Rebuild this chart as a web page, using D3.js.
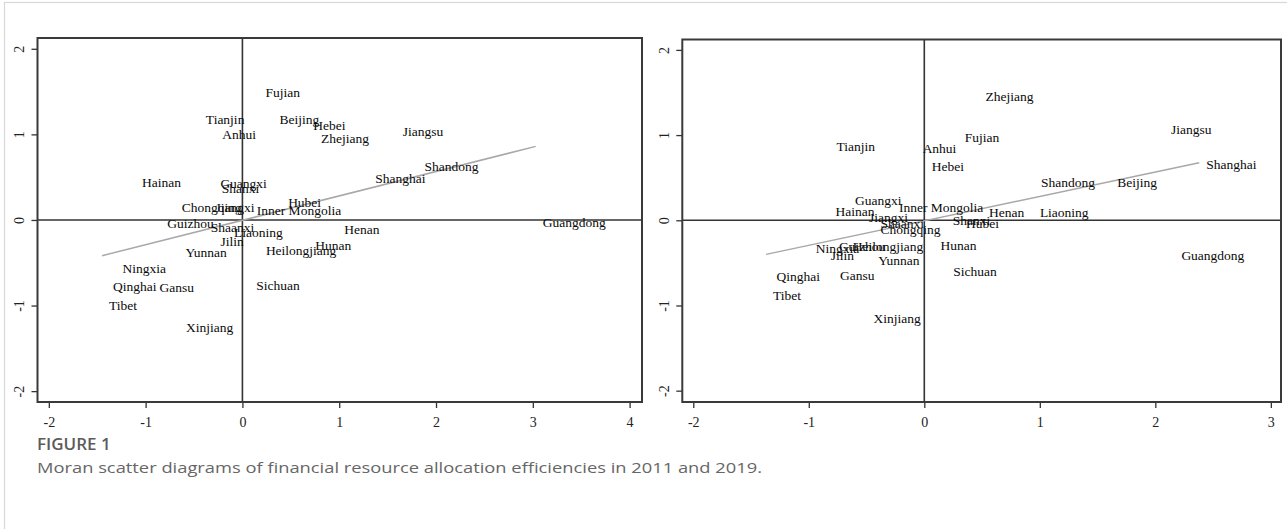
<!DOCTYPE html>
<html>
<head>
<meta charset="utf-8">
<title>Moran scatter diagrams 2011 / 2019</title>
<script src="https://cdn.jsdelivr.net/npm/d3@7"></script>
<style>
  body { margin: 0; background: #fff; }
  svg { display: block; }
</style>
</head>
<body>
<div id="chart"></div>
<script>
// Province names, same order in every array below
const provinces = [
  'Beijing', 'Tianjin', 'Hebei', 'Shanxi', 'Inner Mongolia', 'Liaoning', 'Jilin',
  'Heilongjiang', 'Shanghai', 'Jiangsu', 'Zhejiang', 'Anhui', 'Fujian', 'Jiangxi',
  'Shandong', 'Henan', 'Hubei', 'Hunan', 'Guangdong', 'Guangxi', 'Hainan',
  'Chongqing', 'Sichuan', 'Guizhou', 'Yunnan', 'Tibet', 'Shaanxi', 'Gansu',
  'Qinghai', 'Ningxia', 'Xinjiang'
];

// 2011: standardized efficiency (z) and its spatial lag (Wz)
const z2011 = [
  0.31, -0.45, 0.66, -0.285, 0.076, -0.16, -0.30,
  0.17, 1.30, 1.585, 0.74, -0.28, 0.165, -0.35,
  1.81, 0.98, 0.40, 0.68, 3.03, -0.30, -1.11,
  -0.70, 0.07, -0.85, -0.66, -1.45, -0.40, -0.93,
  -1.41, -1.31, -0.655
];
const wz2011 = [
  1.18, 1.18, 1.11, 0.37, 0.11, -0.14, -0.25,
  -0.35, 0.49, 1.04, 0.96, 1.00, 1.49, 0.15,
  0.63, -0.11, 0.21, -0.29, -0.03, 0.43, 0.44,
  0.145, -0.76, -0.035, -0.38, -0.995, -0.09, -0.79,
  -0.77, -0.56, -1.25
];

// 2019
const z2019 = [
  1.61, -0.82, 0.004, 0.185, -0.28, 0.94, -0.87,
  -0.68, 2.38, 2.075, 0.47, -0.075, 0.29, -0.54,
  0.95, 0.50, 0.30, 0.08, 2.165, -0.66, -0.83,
  -0.44, 0.19, -0.80, -0.46, -1.37, -0.44, -0.79,
  -1.34, -1.00, -0.50
];
const wz2019 = [
  0.45, 0.87, 0.63, -0.005, 0.15, 0.09, -0.41,
  -0.30, 0.66, 1.07, 1.45, 0.845, 0.98, 0.04,
  0.45, 0.094, -0.03, -0.29, -0.41, 0.24, 0.11,
  -0.105, -0.60, -0.31, -0.47, -0.88, -0.03, -0.64,
  -0.66, -0.33, -1.15
];

// fitted line (slope = Moran's I)
const fit2011 = { slope: 0.285, intercept: -0.004 };
const fit2019 = { slope: 0.287, intercept: -0.007 };

// axis ticks and visible ranges
const xTicks2011 = [-2, -1, 0, 1, 2, 3, 4];
const xTicks2019 = [-2, -1, 0, 1, 2, 3];
const yTicks = [-2, -1, 0, 1, 2];
const xRange2011 = [-2.117, 4.128];
const xRange2019 = [-2.095, 3.088];
const yRange2011 = [-2.127, 2.126];
const yRange2019 = [-2.133, 2.122];

const width = 1287;
const height = 529;
const serif = '"Liberation Serif", "Times New Roman", serif';

const svg = d3.select('#chart').append('svg')
  .attr('width', width)
  .attr('height', height);

// card frame
svg.append('rect')
  .attr('x', 4.5).attr('y', 2.5)
  .attr('width', width + 10).attr('height', height + 10)
  .attr('fill', '#fff')
  .attr('stroke', '#d8d8d8')
  .attr('stroke-width', 1.2);

function drawPanel(opt) {
  const x = d3.scaleLinear().domain(opt.xRange).range([opt.left, opt.right]);
  const y = d3.scaleLinear().domain(opt.yRange).range([opt.bottom, opt.top]);
  const g = svg.append('g');

  // quadrant lines through the origin
  g.append('line')
    .attr('x1', x(0)).attr('x2', x(0))
    .attr('y1', opt.top).attr('y2', opt.bottom)
    .attr('stroke', '#333').attr('stroke-width', 1.6);
  g.append('line')
    .attr('x1', opt.left).attr('x2', opt.right)
    .attr('y1', y(0)).attr('y2', y(0))
    .attr('stroke', '#333').attr('stroke-width', 1.6);

  // linear fit across the range of z
  const ext = d3.extent(opt.z);
  g.append('line')
    .attr('x1', x(ext[0])).attr('y1', y(opt.fit.intercept + opt.fit.slope * ext[0]))
    .attr('x2', x(ext[1])).attr('y2', y(opt.fit.intercept + opt.fit.slope * ext[1]))
    .attr('stroke', '#a8a8a8').attr('stroke-width', 1.5);

  // province labels, placed to the right of each point
  g.selectAll('text.lab')
    .data(opt.names.map((n, i) => ({ name: n, z: opt.z[i], wz: opt.wz[i] })))
    .enter().append('text')
    .attr('class', 'lab')
    .attr('x', d => x(d.z) + 7)
    .attr('y', d => y(d.wz))
    .attr('dy', '0.35em')
    .attr('font-family', serif)
    .attr('font-size', 13.5)
    .attr('fill', '#0a0a0a')
    .text(d => d.name);

  // bottom axis (plain hyphen for negatives, like the original)
  const xAxis = g.append('g')
    .attr('transform', `translate(0,${opt.bottom})`)
    .call(d3.axisBottom(x).tickValues(opt.xTicks).tickSize(6).tickPadding(9).tickFormat(d => String(d)));
  xAxis.select('.domain').remove();
  xAxis.selectAll('line').attr('stroke', '#333').attr('stroke-width', 1.3);
  xAxis.selectAll('text')
    .attr('font-family', serif).attr('font-size', 14).attr('fill', '#222');

  // left axis with vertical labels
  const yAxis = g.append('g')
    .attr('transform', `translate(${opt.left},0)`)
    .call(d3.axisLeft(y).tickValues(yTicks).tickSize(6).tickFormat(d => String(d)));
  yAxis.select('.domain').remove();
  yAxis.selectAll('line').attr('stroke', '#333').attr('stroke-width', 1.3);
  yAxis.selectAll('text')
    .attr('x', null).attr('dy', '0.35em')
    .attr('text-anchor', 'middle')
    .attr('transform', 'translate(-18,0) rotate(-90)')
    .attr('font-family', serif).attr('font-size', 14).attr('fill', '#222');

  // plot frame
  g.append('rect')
    .attr('x', opt.left).attr('y', opt.top)
    .attr('width', opt.right - opt.left).attr('height', opt.bottom - opt.top)
    .attr('fill', 'none')
    .attr('stroke', '#3a3a3a').attr('stroke-width', 2);
}

drawPanel({
  names: provinces, z: z2011, wz: wz2011, fit: fit2011,
  xRange: xRange2011, yRange: yRange2011, xTicks: xTicks2011,
  left: 37.5, right: 642, top: 38, bottom: 402
});

drawPanel({
  names: provinces, z: z2019, wz: wz2019, fit: fit2019,
  xRange: xRange2019, yRange: yRange2019, xTicks: xTicks2019,
  left: 682.3, right: 1281, top: 39.5, bottom: 402
});

// caption
svg.append('text')
  .attr('x', 37).attr('y', 450)
  .attr('font-family', '"Open Sans", "Noto Sans", sans-serif')
  .attr('font-size', 17).attr('font-weight', 600)
  .attr('fill', '#5b5b5b')
  .text('FIGURE 1');

svg.append('text')
  .attr('x', 37).attr('y', 473)
  .attr('font-family', '"Open Sans", "Noto Sans", sans-serif')
  .attr('font-size', 14.5)
  .attr('fill', '#666')
  .attr('textLength', 725).attr('lengthAdjust', 'spacingAndGlyphs')
  .text('Moran scatter diagrams of financial resource allocation efficiencies in 2011 and 2019.');
</script>
</body>
</html>
